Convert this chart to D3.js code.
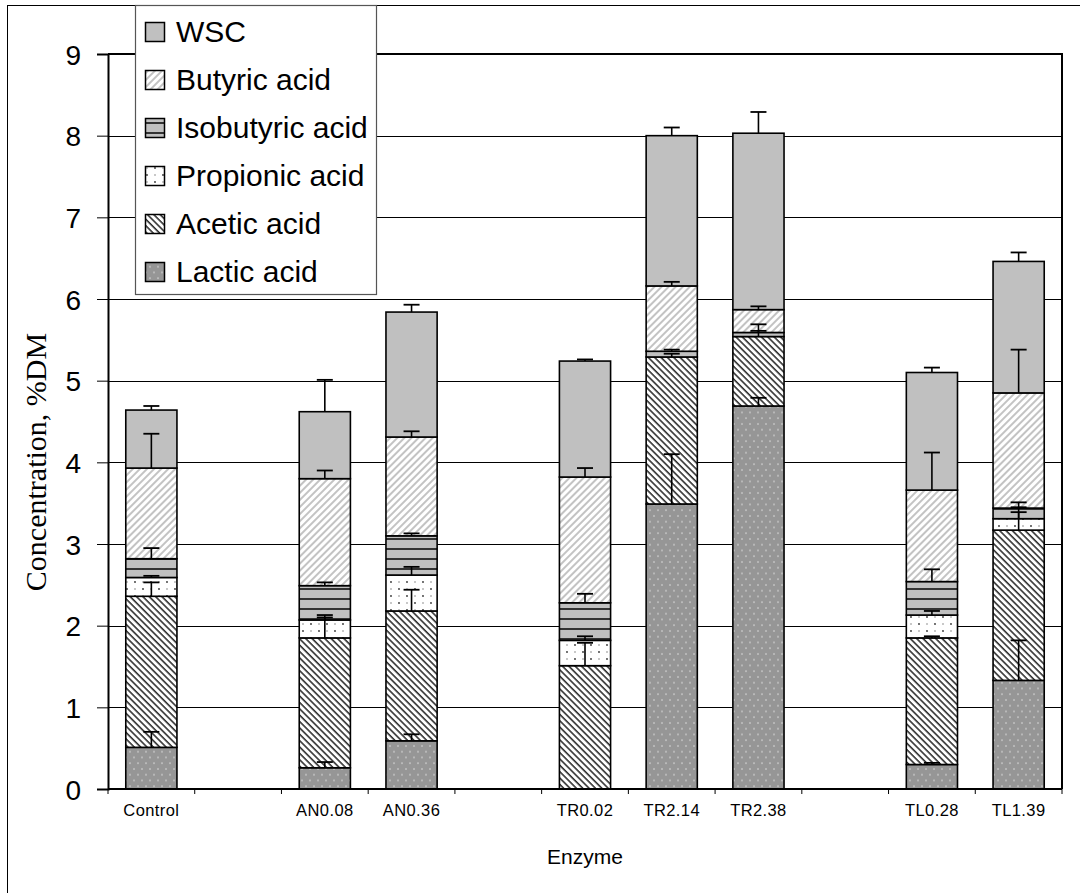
<!DOCTYPE html>
<html>
<head>
  <meta charset="utf-8">
  <title>Concentration by enzyme</title>
  <script src="https://d3js.org/d3.v7.min.js"></script>
  <style>
    body { margin: 0; background: #fff; }
    svg text { font-family: "Liberation Sans", Arial, sans-serif; fill: #000; }
  </style>
</head>
<body>
<div id="grafico"></div>
<script>
"use strict"

// categorias (as vazias sao os espacos entre grupos)
var categorias = ["Control", "", "AN0.08", "AN0.36", "", "TR0.02", "TR2.14", "TR2.38", "", "TL0.28", "TL1.39"];
var series = ["Lactic acid", "Acetic acid", "Propionic acid", "Isobutyric acid", "Butyric acid", "WSC"];
var padroes = ["lactic", "acetic", "propionic", "isobutyric", "butyric", "wsc"];

// alturas de cada segmento, na ordem de series (null = categoria vazia)
var lactic     = [0.51, null, 0.26, 0.59, null, 0.00, 3.49, 4.69, null, 0.30, 1.33];
var acetic     = [1.85, null, 1.59, 1.59, null, 1.51, 1.80, 0.85, null, 1.55, 1.84];
var propionic  = [0.23, null, 0.22, 0.44, null, 0.31, 0.00, 0.00, null, 0.28, 0.14];
var isobutyric = [0.23, null, 0.42, 0.48, null, 0.46, 0.07, 0.05, null, 0.41, 0.13];
var butyric    = [1.11, null, 1.31, 1.21, null, 1.54, 0.80, 0.28, null, 1.12, 1.41];
var wsc        = [0.71, null, 0.82, 1.53, null, 1.42, 1.84, 2.16, null, 1.44, 1.61];

// barras de erro (so para cima)
var errLactic     = [0.19, null, 0.07, 0.08, null, 0.00, 0.61, 0.10, null, 0.02, 0.49];
var errAcetic     = [0.17, null, 0.28, 0.26, null, 0.28, 0.04, 0.15, null, 0.02, 0.28];
var errPropionic  = [0.02, null, 0.03, 0.10, null, 0.05, 0.00, 0.00, null, 0.05, 0.08];
var errIsobutyric = [0.13, null, 0.04, 0.03, null, 0.11, 0.02, 0.02, null, 0.15, 0.07];
var errButyric    = [0.42, null, 0.10, 0.07, null, 0.11, 0.05, 0.04, null, 0.46, 0.53];
var errWsc        = [0.05, null, 0.39, 0.09, null, 0.02, 0.10, 0.26, null, 0.06, 0.11];

var yTicks = [0, 1, 2, 3, 4, 5, 6, 7, 8, 9];

var valores = [lactic, acetic, propionic, isobutyric, butyric, wsc];
var erros = [errLactic, errAcetic, errPropionic, errIsobutyric, errButyric, errWsc];

var larguraSVG = 1080, alturaSVG = 893;
var margin = {top: 54, right: 18, bottom: 104, left: 108};
var larguraVis = larguraSVG - margin.left - margin.right,
    alturaVis = alturaSVG - margin.top - margin.bottom;

var svg = d3.select("#grafico").append("svg")
    .attr("width", larguraSVG)
    .attr("height", alturaSVG);

// padroes de preenchimento
var defs = svg.append("defs");

var p = defs.append("pattern").attr("id", "wsc").attr("patternUnits", "userSpaceOnUse")
    .attr("width", 4).attr("height", 4);
p.append("rect").attr("width", 4).attr("height", 4).attr("fill", "#c0c0c0");

p = defs.append("pattern").attr("id", "butyric").attr("patternUnits", "userSpaceOnUse")
    .attr("width", 5).attr("height", 5).attr("patternTransform", "rotate(45)");
p.append("rect").attr("width", 5).attr("height", 5).attr("fill", "#fff");
p.append("line").attr("x1", 1).attr("x2", 1).attr("y1", 0).attr("y2", 5)
    .attr("stroke", "#b4b4b4").attr("stroke-width", 1.6);

p = defs.append("pattern").attr("id", "acetic").attr("patternUnits", "userSpaceOnUse")
    .attr("width", 4.5).attr("height", 4.5).attr("patternTransform", "rotate(-45)");
p.append("rect").attr("width", 4.5).attr("height", 4.5).attr("fill", "#fff");
p.append("line").attr("x1", 1).attr("x2", 1).attr("y1", 0).attr("y2", 4.5)
    .attr("stroke", "#222").attr("stroke-width", 1.5);

p = defs.append("pattern").attr("id", "isobutyric").attr("patternUnits", "userSpaceOnUse")
    .attr("width", 10).attr("height", 10);
p.append("rect").attr("width", 10).attr("height", 10).attr("fill", "#c0c0c0");
p.append("line").attr("x1", 0).attr("x2", 10).attr("y1", 5).attr("y2", 5)
    .attr("stroke", "#333").attr("stroke-width", 2);

p = defs.append("pattern").attr("id", "propionic").attr("patternUnits", "userSpaceOnUse")
    .attr("width", 16).attr("height", 14);
p.append("rect").attr("width", 16).attr("height", 14).attr("fill", "#fff");
[[3, 3], [11, 10]].forEach(function(c) {
  p.append("circle").attr("cx", c[0]).attr("cy", c[1]).attr("r", 0.9).attr("fill", "#333");
});
[[11, 3], [3, 10]].forEach(function(c) {
  p.append("circle").attr("cx", c[0]).attr("cy", c[1]).attr("r", 0.7).attr("fill", "#666");
});

p = defs.append("pattern").attr("id", "lactic").attr("patternUnits", "userSpaceOnUse")
    .attr("width", 8).attr("height", 11.5);
p.append("rect").attr("width", 8).attr("height", 11.5).attr("fill", "#969696");
[[2, 2], [6, 7.75]].forEach(function(c) {
  p.append("circle").attr("cx", c[0]).attr("cy", c[1]).attr("r", 0.8).attr("fill", "#dcdcdc");
});

// moldura externa
svg.append("rect").attr("x", 7.5).attr("y", 5.5).attr("width", 1100).attr("height", 1000)
    .attr("fill", "none").attr("stroke", "#000").attr("stroke-width", 1);

var g = svg.append("g").attr("transform", "translate(" + margin.left + "," + margin.top + ")");

var x = d3.scaleBand().domain(d3.range(categorias.length)).range([0, larguraVis]).padding(0);
var y = d3.scaleLinear().domain([0, 9]).range([alturaVis, 0]);

var larguraBarra = x.bandwidth() * 0.59;

// grade
g.selectAll(".grade").data(yTicks.filter(function(t) { return t > 0; }))
  .enter().append("line")
    .attr("x1", 0).attr("x2", larguraVis)
    .attr("y1", function(d) { return Math.round(y(d)) + 0.5; })
    .attr("y2", function(d) { return Math.round(y(d)) + 0.5; })
    .attr("stroke", "#000").attr("stroke-width", 1);

// borda da area do grafico (topo e direita)
g.append("path")
  .attr("d", "M0," + y(9) + "H" + larguraVis + "V" + alturaVis)
  .attr("fill", "none").attr("stroke", "#000").attr("stroke-width", 2);

// barras empilhadas
var empilhado = [];
categorias.forEach(function(c, i) {
  if (lactic[i] === null) return;
  var base = 0;
  valores.forEach(function(serie, s) {
    var v = serie[i];
    empilhado.push({cat: i, s: s, y0: base, y1: base + v, err: erros[s][i]});
    base += v;
  });
});

g.selectAll(".seg").data(empilhado.filter(function(d) { return d.y1 - d.y0 > 0; }))
  .enter().append("rect")
    .attr("x", function(d) { return x(d.cat) + (x.bandwidth() - larguraBarra) / 2; })
    .attr("width", larguraBarra)
    .attr("y", function(d) { return y(d.y1); })
    .attr("height", function(d) { return y(d.y0) - y(d.y1); })
    .attr("fill", function(d) { return "url(#" + padroes[d.s] + ")"; })
    .attr("stroke", "#000").attr("stroke-width", 1.6);

// barras de erro
var eb = g.selectAll(".erro").data(empilhado.filter(function(d) { return d.err > 0; }))
  .enter().append("g");
eb.append("line")
    .attr("x1", function(d) { return x(d.cat) + x.bandwidth() / 2; })
    .attr("x2", function(d) { return x(d.cat) + x.bandwidth() / 2; })
    .attr("y1", function(d) { return y(d.y1); })
    .attr("y2", function(d) { return y(d.y1 + d.err); })
    .attr("stroke", "#000").attr("stroke-width", 1.6);
eb.append("line")
    .attr("x1", function(d) { return x(d.cat) + x.bandwidth() / 2 - 8; })
    .attr("x2", function(d) { return x(d.cat) + x.bandwidth() / 2 + 8; })
    .attr("y1", function(d) { return y(d.y1 + d.err); })
    .attr("y2", function(d) { return y(d.y1 + d.err); })
    .attr("stroke", "#000").attr("stroke-width", 1.8);

// eixo y
var eixoY = g.append("g")
  .call(d3.axisLeft(y).tickValues(yTicks).tickSize(11).tickPadding(16).tickFormat(d3.format("d")));
eixoY.select(".domain").attr("stroke-width", 2);
eixoY.selectAll("text").style("font-size", "28px").attr("dy", "0.36em");

// eixo x: marcas nas fronteiras das categorias
g.append("line").attr("x1", 0).attr("x2", larguraVis)
    .attr("y1", alturaVis).attr("y2", alturaVis)
    .attr("stroke", "#000").attr("stroke-width", 2);
g.selectAll(".xtick").data(d3.range(categorias.length + 1))
  .enter().append("line")
    .attr("x1", function(d) { return d * x.step(); })
    .attr("x2", function(d) { return d * x.step(); })
    .attr("y1", alturaVis).attr("y2", alturaVis + 5)
    .attr("stroke", "#000").attr("stroke-width", 1);
g.selectAll(".xlabel").data(d3.range(categorias.length))
  .enter().append("text")
    .attr("x", function(d) { return x(d) + x.bandwidth() / 2; })
    .attr("y", alturaVis + 27)
    .attr("text-anchor", "middle")
    .style("font-size", "16.5px")
    .style("letter-spacing", "0.4px")
    .text(function(d) { return categorias[d]; });

// titulos dos eixos
svg.append("text")
    .attr("x", 585).attr("y", 864)
    .attr("text-anchor", "middle")
    .style("font-size", "21px")
    .text("Enzyme");

svg.append("text")
    .attr("transform", "translate(46,462) rotate(-90)")
    .attr("text-anchor", "middle")
    .style("font-family", "'Liberation Serif', 'Times New Roman', serif")
    .style("font-size", "30px")
    .text("Concentration, %DM");

// legenda
var legenda = svg.append("g");
legenda.append("rect").attr("x", 135.5).attr("y", 5.5).attr("width", 241).attr("height", 289)
    .attr("fill", "#fff").attr("stroke", "#555").attr("stroke-width", 1.2);
var ordemLegenda = d3.range(series.length).reverse();
var item = legenda.selectAll(".item").data(ordemLegenda)
  .enter().append("g")
    .attr("transform", function(d, i) { return "translate(0," + (42 + i * 48) + ")"; });
item.append("rect")
    .attr("x", 145.5).attr("y", -19.5).attr("width", 19).attr("height", 19)
    .attr("fill", function(d) { return "url(#" + padroes[d] + ")"; })
    .attr("stroke", "#000").attr("stroke-width", 1.5);
item.append("text")
    .attr("x", 176).attr("y", 0)
    .style("font-size", "30px")
    .text(function(d) { return series[d]; });
</script>
</body>
</html>
